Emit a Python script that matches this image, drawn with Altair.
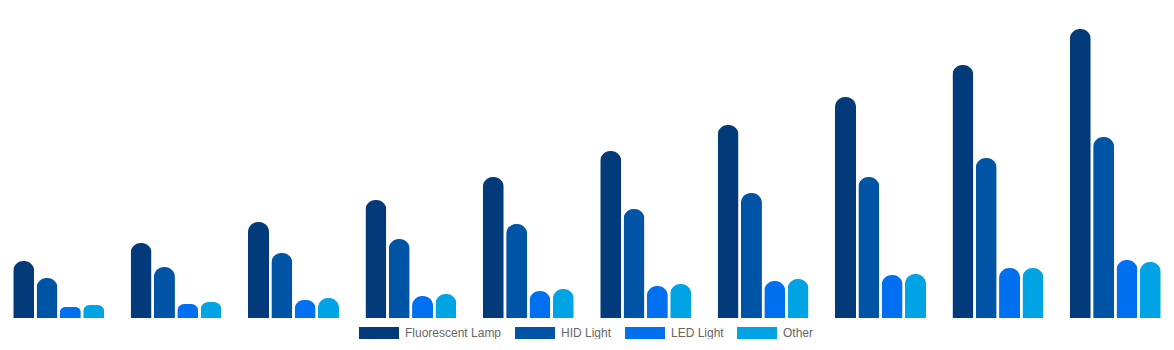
import altair as alt
import pandas as pd

groups = ["1", "2", "3", "4", "5", "6", "7", "8", "9", "10"]
series = ["Fluorescent Lamp", "HID Light", "LED Light", "Other"]
colors = ["#033a79", "#0054a6", "#006ff0", "#00a3e3"]

fluorescent = [57, 75, 96, 118, 141, 167, 193, 221, 253, 289]
hid = [40, 51, 65, 79, 94, 109, 125, 141, 160, 181]
led = [11, 14, 18, 22, 27, 32, 37, 43, 50, 58]
other = [13, 16, 20, 24, 29, 34, 39, 44, 50, 56]

rows = []
for name, vals in zip(series, [fluorescent, hid, led, other]):
    for g, v in zip(groups, vals):
        rows.append({"group": g, "series": name, "value": v})
df = pd.DataFrame(rows)

chart = (
    alt.Chart(df)
    .mark_bar(cornerRadiusTopLeft=10, cornerRadiusTopRight=10)
    .encode(
        x=alt.X("group:N", sort=groups, axis=None,
                scale=alt.Scale(paddingInner=0.225, paddingOuter=0.1125)),
        xOffset=alt.XOffset("series:N", sort=series,
                            scale=alt.Scale(paddingInner=0.1, paddingOuter=0)),
        y=alt.Y("value:Q", axis=None, scale=alt.Scale(domain=[0, 318], nice=False)),
        color=alt.Color(
            "series:N",
            sort=series,
            scale=alt.Scale(domain=series, range=colors),
            legend=alt.Legend(
                title=None,
                orient="none",
                direction="horizontal",
                legendX=359,
                legendY=313,
                symbolType="M-1,-0.3L1,-0.3L1,0.3L-1,0.3Z",
                symbolSize=1600,
                symbolStrokeWidth=0,
                labelFont="Liberation Sans",
                labelFontSize=12,
                labelColor="#666666",
                labelOffset=6,
                columnPadding=13,
                padding=0,
            ),
        ),
    )
    .properties(width=1174, height=318)
    .configure(padding=0)
    .configure_view(stroke=None)
)

chart.save("out.html", embed_options={"renderer": "svg", "actions": False})
